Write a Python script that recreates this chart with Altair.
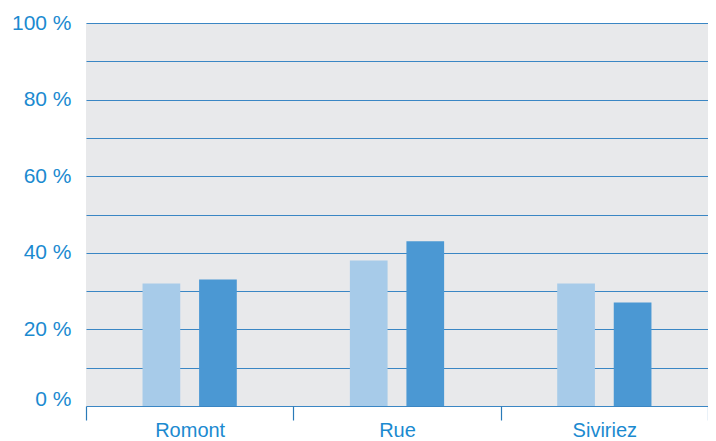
import altair as alt
import pandas as pd

categories = ["Romont", "Rue", "Siviriez"]
series_names = ["Série 1", "Série 2"]
series1 = [32, 38, 32]
series2 = [33, 43, 27]
y_ticks = [0, 10, 20, 30, 40, 50, 60, 70, 80, 90, 100]

rows = []
for c, a, b in zip(categories, series1, series2):
    rows.append({"lieu": c, "serie": series_names[0], "valeur": a})
    rows.append({"lieu": c, "serie": series_names[1], "valeur": b})
df = pd.DataFrame(rows)

TEXT = "#1b8ad0"
FONT = "Liberation Sans"

chart = alt.Chart(df).mark_bar().encode(
    x=alt.X("lieu:N", sort=categories, title=None,
            scale=alt.Scale(paddingInner=0, paddingOuter=0),
            axis=alt.Axis(labelAngle=0, labelFont=FONT, labelFontSize=20, labelColor=TEXT,
                          labelPadding=0, tickSize=14, tickColor="#2a7ab8", tickWidth=1.2,
                          tickBand="extent", domain=False, grid=False)),
    xOffset=alt.XOffset("serie:N", sort=series_names,
                        scale=alt.Scale(paddingInner=1/3, paddingOuter=1.0)),
    y=alt.Y("valeur:Q", title=None, scale=alt.Scale(domain=[0, 100], nice=False),
            axis=alt.Axis(values=y_ticks, grid=True, gridColor="#3a86c4", gridWidth=1.1,
                          ticks=False, domain=False, labelFont=FONT, labelFontSize=21,
                          labelColor=TEXT, labelPadding=15,
                          labelExpr="datum.value % 20 == 0 ? datum.value + ' %' : ''",
                          labelOffset={"condition": {"test": "datum.value == 0", "value": -7}, "value": 0})),
    color=alt.Color("serie:N", sort=series_names,
                    scale=alt.Scale(domain=series_names, range=["#a7cbe9", "#4b98d3"]),
                    legend=None),
).properties(
    width=622, height=383,
    autosize=alt.AutoSizeParams(type="none"),
    padding={"left": 78, "top": 15, "right": 0, "bottom": 34},
).configure_view(fill="#e8e9eb", stroke=None)

chart.save("out.html", embed_options={"renderer": "svg", "actions": False})
